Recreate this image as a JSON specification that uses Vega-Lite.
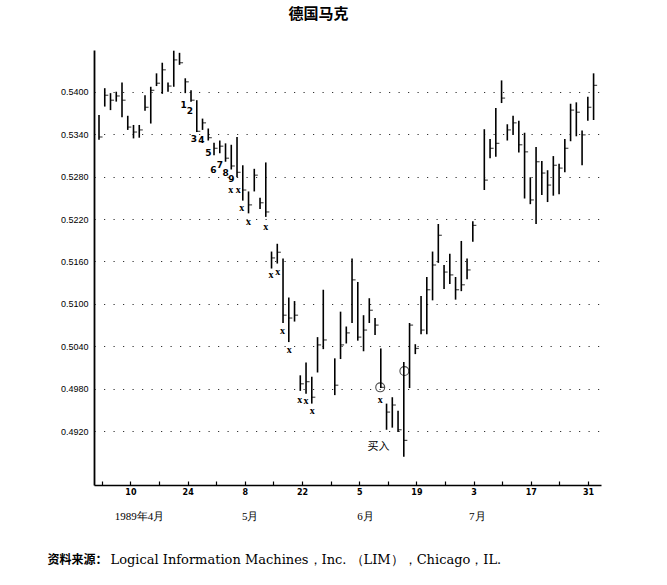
{
  "$schema": "https://vega.github.io/schema/vega-lite/v6.json",
  "width": 507,
  "height": 435,
  "autosize": {"type": "none"},
  "padding": {"left": 94, "top": 50, "right": 66, "bottom": 100},
  "background": "white",
  "config": {"view": {"stroke": null}},
  "title": {"text": "德国马克", "font": "Noto Sans CJK SC", "fontSize": 15, "fontWeight": "bold", "anchor": "middle", "dx": -29, "offset": 28, "color": "black"},
  "datasets": {
    "bars": [
      {"date": "1989-04-03", "d": 0, "hi": 0.5367, "lo": 0.5332, "cl": 0.5336},
      {"date": "1989-04-04", "d": 1, "hi": 0.5405, "lo": 0.5379, "cl": 0.5395},
      {"date": "1989-04-05", "d": 2, "hi": 0.5398, "lo": 0.5374, "cl": 0.5388},
      {"date": "1989-04-06", "d": 3, "hi": 0.5400, "lo": 0.5386, "cl": 0.5394},
      {"date": "1989-04-07", "d": 4, "hi": 0.5413, "lo": 0.5364, "cl": 0.5388},
      {"date": "1989-04-10", "d": 5, "hi": 0.5366, "lo": 0.5346, "cl": 0.5350},
      {"date": "1989-04-11", "d": 6, "hi": 0.5353, "lo": 0.5334, "cl": 0.5343},
      {"date": "1989-04-12", "d": 7, "hi": 0.5353, "lo": 0.5335, "cl": 0.5346},
      {"date": "1989-04-13", "d": 8, "hi": 0.5395, "lo": 0.5373, "cl": 0.5378},
      {"date": "1989-04-14", "d": 9, "hi": 0.5407, "lo": 0.5355, "cl": 0.5402},
      {"date": "1989-04-17", "d": 10, "hi": 0.5426, "lo": 0.5408, "cl": 0.5412},
      {"date": "1989-04-18", "d": 11, "hi": 0.5441, "lo": 0.5397, "cl": 0.5431},
      {"date": "1989-04-19", "d": 12, "hi": 0.5413, "lo": 0.5400, "cl": 0.5408},
      {"date": "1989-04-20", "d": 13, "hi": 0.5458, "lo": 0.5407, "cl": 0.5445},
      {"date": "1989-04-21", "d": 14, "hi": 0.5455, "lo": 0.5438, "cl": 0.5441},
      {"date": "1989-04-24", "d": 15, "hi": 0.5419, "lo": 0.5398, "cl": 0.5414},
      {"date": "1989-04-25", "d": 16, "hi": 0.5402, "lo": 0.5386, "cl": 0.5388},
      {"date": "1989-04-26", "d": 17, "hi": 0.5388, "lo": 0.5343, "cl": 0.5344},
      {"date": "1989-04-27", "d": 18, "hi": 0.5362, "lo": 0.5346, "cl": 0.5356},
      {"date": "1989-04-28", "d": 19, "hi": 0.5348, "lo": 0.5331, "cl": 0.5335},
      {"date": "1989-05-01", "d": 20, "hi": 0.5328, "lo": 0.5310, "cl": 0.5320},
      {"date": "1989-05-02", "d": 21, "hi": 0.5331, "lo": 0.5313, "cl": 0.5323},
      {"date": "1989-05-03", "d": 22, "hi": 0.5327, "lo": 0.5301, "cl": 0.5306},
      {"date": "1989-05-04", "d": 23, "hi": 0.5325, "lo": 0.5290, "cl": 0.5295},
      {"date": "1989-05-05", "d": 24, "hi": 0.5336, "lo": 0.5279, "cl": 0.5286},
      {"date": "1989-05-08", "d": 25, "hi": 0.5296, "lo": 0.5246, "cl": 0.5261},
      {"date": "1989-05-09", "d": 26, "hi": 0.5259, "lo": 0.5228, "cl": 0.5240},
      {"date": "1989-05-10", "d": 27, "hi": 0.5291, "lo": 0.5259, "cl": 0.5282},
      {"date": "1989-05-11", "d": 28, "hi": 0.5250, "lo": 0.5234, "cl": 0.5243},
      {"date": "1989-05-12", "d": 29, "hi": 0.5300, "lo": 0.5223, "cl": 0.5230},
      {"date": "1989-05-15", "d": 30, "hi": 0.5174, "lo": 0.5150, "cl": 0.5165},
      {"date": "1989-05-16", "d": 31, "hi": 0.5185, "lo": 0.5157, "cl": 0.5173},
      {"date": "1989-05-17", "d": 32, "hi": 0.5164, "lo": 0.5073, "cl": 0.5084},
      {"date": "1989-05-18", "d": 33, "hi": 0.5109, "lo": 0.5046, "cl": 0.5080},
      {"date": "1989-05-19", "d": 34, "hi": 0.5104, "lo": 0.5075, "cl": 0.5084},
      {"date": "1989-05-22", "d": 35, "hi": 0.4999, "lo": 0.4977, "cl": 0.4987},
      {"date": "1989-05-23", "d": 36, "hi": 0.5017, "lo": 0.4973, "cl": 0.4990},
      {"date": "1989-05-24", "d": 37, "hi": 0.4997, "lo": 0.4959, "cl": 0.4968},
      {"date": "1989-05-25", "d": 38, "hi": 0.5053, "lo": 0.5003, "cl": 0.5042},
      {"date": "1989-05-26", "d": 39, "hi": 0.5120, "lo": 0.5036, "cl": 0.5049},
      {"date": "1989-05-30", "d": 41, "hi": 0.5023, "lo": 0.4971, "cl": 0.4985},
      {"date": "1989-05-31", "d": 42, "hi": 0.5089, "lo": 0.5022, "cl": 0.5042},
      {"date": "1989-06-01", "d": 43, "hi": 0.5068, "lo": 0.5044, "cl": 0.5059},
      {"date": "1989-06-02", "d": 44, "hi": 0.5164, "lo": 0.5073, "cl": 0.5134},
      {"date": "1989-06-05", "d": 45, "hi": 0.5131, "lo": 0.5048, "cl": 0.5053},
      {"date": "1989-06-06", "d": 46, "hi": 0.5084, "lo": 0.5033, "cl": 0.5063},
      {"date": "1989-06-07", "d": 47, "hi": 0.5108, "lo": 0.5073, "cl": 0.5091},
      {"date": "1989-06-08", "d": 48, "hi": 0.5080, "lo": 0.5056, "cl": 0.5070},
      {"date": "1989-06-09", "d": 49, "hi": 0.5037, "lo": 0.4981, "cl": 0.4982},
      {"date": "1989-06-12", "d": 50, "hi": 0.4959, "lo": 0.4922, "cl": 0.4947},
      {"date": "1989-06-13", "d": 51, "hi": 0.4968, "lo": 0.4925, "cl": 0.4957},
      {"date": "1989-06-14", "d": 52, "hi": 0.4949, "lo": 0.4919, "cl": 0.4922},
      {"date": "1989-06-15", "d": 53, "hi": 0.5018, "lo": 0.4884, "cl": 0.4907},
      {"date": "1989-06-16", "d": 54, "hi": 0.5073, "lo": 0.4981, "cl": 0.5070},
      {"date": "1989-06-19", "d": 55, "hi": 0.5043, "lo": 0.5029, "cl": 0.5037},
      {"date": "1989-06-20", "d": 56, "hi": 0.5111, "lo": 0.5057, "cl": 0.5063},
      {"date": "1989-06-21", "d": 57, "hi": 0.5138, "lo": 0.5057, "cl": 0.5120},
      {"date": "1989-06-22", "d": 58, "hi": 0.5174, "lo": 0.5105, "cl": 0.5155},
      {"date": "1989-06-23", "d": 59, "hi": 0.5213, "lo": 0.5158, "cl": 0.5197},
      {"date": "1989-06-26", "d": 60, "hi": 0.5155, "lo": 0.5121, "cl": 0.5145},
      {"date": "1989-06-27", "d": 61, "hi": 0.5171, "lo": 0.5128, "cl": 0.5141},
      {"date": "1989-06-28", "d": 62, "hi": 0.5138, "lo": 0.5106, "cl": 0.5120},
      {"date": "1989-06-29", "d": 63, "hi": 0.5189, "lo": 0.5118, "cl": 0.5127},
      {"date": "1989-06-30", "d": 64, "hi": 0.5164, "lo": 0.5135, "cl": 0.5148},
      {"date": "1989-07-03", "d": 65, "hi": 0.5217, "lo": 0.5188, "cl": 0.5211},
      {"date": "1989-07-05", "d": 67, "hi": 0.5347, "lo": 0.5261, "cl": 0.5275},
      {"date": "1989-07-06", "d": 68, "hi": 0.5333, "lo": 0.5306, "cl": 0.5320},
      {"date": "1989-07-07", "d": 69, "hi": 0.5377, "lo": 0.5308, "cl": 0.5327},
      {"date": "1989-07-10", "d": 70, "hi": 0.5416, "lo": 0.5384, "cl": 0.5391},
      {"date": "1989-07-11", "d": 71, "hi": 0.5354, "lo": 0.5331, "cl": 0.5346},
      {"date": "1989-07-12", "d": 72, "hi": 0.5366, "lo": 0.5339, "cl": 0.5356},
      {"date": "1989-07-13", "d": 73, "hi": 0.5359, "lo": 0.5314, "cl": 0.5325},
      {"date": "1989-07-14", "d": 74, "hi": 0.5342, "lo": 0.5249, "cl": 0.5315},
      {"date": "1989-07-17", "d": 75, "hi": 0.5279, "lo": 0.5241, "cl": 0.5247},
      {"date": "1989-07-18", "d": 76, "hi": 0.5322, "lo": 0.5213, "cl": 0.5301},
      {"date": "1989-07-19", "d": 77, "hi": 0.5302, "lo": 0.5254, "cl": 0.5285},
      {"date": "1989-07-20", "d": 78, "hi": 0.5289, "lo": 0.5244, "cl": 0.5268},
      {"date": "1989-07-21", "d": 79, "hi": 0.5309, "lo": 0.5253, "cl": 0.5296},
      {"date": "1989-07-24", "d": 80, "hi": 0.5298, "lo": 0.5255, "cl": 0.5292},
      {"date": "1989-07-25", "d": 81, "hi": 0.5333, "lo": 0.5286, "cl": 0.5320},
      {"date": "1989-07-26", "d": 82, "hi": 0.5383, "lo": 0.5330, "cl": 0.5374},
      {"date": "1989-07-27", "d": 83, "hi": 0.5385, "lo": 0.5337, "cl": 0.5371},
      {"date": "1989-07-28", "d": 84, "hi": 0.5345, "lo": 0.5296, "cl": 0.5339},
      {"date": "1989-07-31", "d": 85, "hi": 0.5393, "lo": 0.5359, "cl": 0.5378},
      {"date": "1989-08-01", "d": 86, "hi": 0.5426, "lo": 0.5360, "cl": 0.5409}
    ],
    "digits": [
      {"d": 14.7, "v": 0.5381, "label": "1"},
      {"d": 15.8, "v": 0.5373, "label": "2"},
      {"d": 16.5, "v": 0.5333, "label": "3"},
      {"d": 17.8, "v": 0.5332, "label": "4"},
      {"d": 19.0, "v": 0.5313, "label": "5"},
      {"d": 19.9, "v": 0.5289, "label": "6"},
      {"d": 21.0, "v": 0.5296, "label": "7"},
      {"d": 22.0, "v": 0.5285, "label": "8"},
      {"d": 23.0, "v": 0.5277, "label": "9"}
    ],
    "marks": [
      {"d": 22.9, "v": 0.5261, "label": "x"},
      {"d": 24.2, "v": 0.5261, "label": "x"},
      {"d": 24.8, "v": 0.5235, "label": "x"},
      {"d": 26.0, "v": 0.5216, "label": "x"},
      {"d": 29.0, "v": 0.5209, "label": "x"},
      {"d": 29.9, "v": 0.5141, "label": "x"},
      {"d": 31.1, "v": 0.5145, "label": "x"},
      {"d": 31.9, "v": 0.5062, "label": "x"},
      {"d": 33.1, "v": 0.5035, "label": "x"},
      {"d": 34.9, "v": 0.4964, "label": "x"},
      {"d": 36.0, "v": 0.4962, "label": "x"},
      {"d": 37.1, "v": 0.4949, "label": "x"},
      {"d": 48.9, "v": 0.4964, "label": "x"}
    ],
    "circles": [
      {"d": 48.9, "v": 0.4982},
      {"d": 53.1, "v": 0.5005}
    ],
    "buy": [
      {"d": 48.6, "v": 0.4898, "label": "买入"}
    ]
  },
  "resolve": {"axis": {"x": "independent"}},
  "layer": [
    {
      "data": {"name": "bars"},
      "mark": {"type": "rule", "color": "black", "strokeWidth": 1.6},
      "encoding": {
        "x": {
          "field": "d", "type": "quantitative",
          "scale": {"domain": [-0.87, 87.29], "nice": false, "zero": false},
          "axis": {
            "orient": "bottom",
            "values": [0.49, 5.46, 10.43, 15.41, 20.38, 25.36, 30.33, 35.3, 40.27, 45.25, 50.22, 55.19, 60.17, 65.14, 70.11, 75.09, 80.06, 85.03],
            "labelExpr": "['','10','','24','','8','','22','','5','','19','','3','','17','','31'][round((datum.value-0.49)/4.973)]",
            "labelFlush": false, "labelOverlap": false,
            "domainColor": "black", "domainWidth": 1.6,
            "tickColor": "black", "tickSize": -4, "tickWidth": 1.2,
            "labelFont": "DejaVu Sans", "labelFontSize": 8, "labelFontWeight": "bold", "labelColor": "black", "labelPadding": 7,
            "grid": false,
            "title": "资料来源：", "titleFont": "Noto Sans CJK SC", "titleFontSize": 12, "titleFontWeight": "bold", "titleColor": "black",
            "titleAnchor": "start", "titleAlign": "left", "titleX": -47, "titleY": 81, "titleBaseline": "bottom"
          }
        },
        "y": {
          "field": "hi", "type": "quantitative", "title": null,
          "scale": {"domain": [0.48439, 0.5459], "nice": false, "zero": false},
          "axis": {
            "values": [0.492, 0.498, 0.504, 0.51, 0.516, 0.522, 0.528, 0.534, 0.54],
            "format": ".4f", "ticks": false, "labelPadding": 6,
            "labelFont": "Liberation Sans", "labelFontSize": 9, "labelColor": "black",
            "domainColor": "black", "domainWidth": 1.8,
            "grid": true, "gridColor": "#333333", "gridDash": [1.2, 8.3], "gridWidth": 1.2,
            "title": null
          }
        },
        "y2": {"field": "lo"}
      }
    },
    {
      "data": {"name": "bars"},
      "mark": {"type": "tick", "orient": "horizontal", "color": "black", "size": 3.5, "thickness": 1.2, "xOffset": 1.8},
      "encoding": {
        "x": {
          "field": "d", "type": "quantitative",
          "axis": {
            "orient": "bottom",
            "values": [6.96, 26.2, 46.25, 65.7],
            "labelExpr": "['1989年4月','5月','6月','7月'][round((datum.value-6.96)/19.6)]",
            "labelFlush": false, "labelOverlap": false,
            "domain": false, "ticks": false, "grid": false,
            "labelFont": "Liberation Serif", "labelFontSize": 11, "labelColor": "black", "labelPadding": 25,
            "title": "Logical Information Machines，Inc. （LIM），Chicago，IL.",
            "titleFont": "DejaVu Serif", "titleFontSize": 13, "titleFontWeight": "normal", "titleColor": "black",
            "titleAnchor": "start", "titleAlign": "left", "titleX": 16, "titleY": 81, "titleBaseline": "bottom"
          }
        },
        "y": {"field": "cl", "type": "quantitative", "title": null}
      }
    },
    {
      "data": {"name": "digits"},
      "mark": {"type": "text", "font": "DejaVu Sans", "fontSize": 9, "fontWeight": "bold", "color": "black", "align": "center", "baseline": "middle"},
      "encoding": {
        "x": {"field": "d", "type": "quantitative", "axis": null},
        "y": {"field": "v", "type": "quantitative", "title": null},
        "text": {"field": "label"}
      }
    },
    {
      "data": {"name": "marks"},
      "mark": {"type": "text", "font": "Liberation Serif", "fontSize": 10, "fontWeight": "bold", "color": "black", "align": "center", "baseline": "middle"},
      "encoding": {
        "x": {"field": "d", "type": "quantitative", "axis": null},
        "y": {"field": "v", "type": "quantitative", "title": null},
        "text": {"field": "label"}
      }
    },
    {
      "data": {"name": "circles"},
      "mark": {"type": "point", "shape": "circle", "filled": false, "color": "black", "size": 80, "strokeWidth": 1.1},
      "encoding": {
        "x": {"field": "d", "type": "quantitative", "axis": null},
        "y": {"field": "v", "type": "quantitative", "title": null}
      }
    },
    {
      "data": {"name": "buy"},
      "mark": {"type": "text", "font": "Noto Sans CJK SC", "fontSize": 11, "color": "black", "align": "center", "baseline": "middle"},
      "encoding": {
        "x": {"field": "d", "type": "quantitative", "axis": null},
        "y": {"field": "v", "type": "quantitative", "title": null},
        "text": {"field": "label"}
      }
    }
  ]
}
